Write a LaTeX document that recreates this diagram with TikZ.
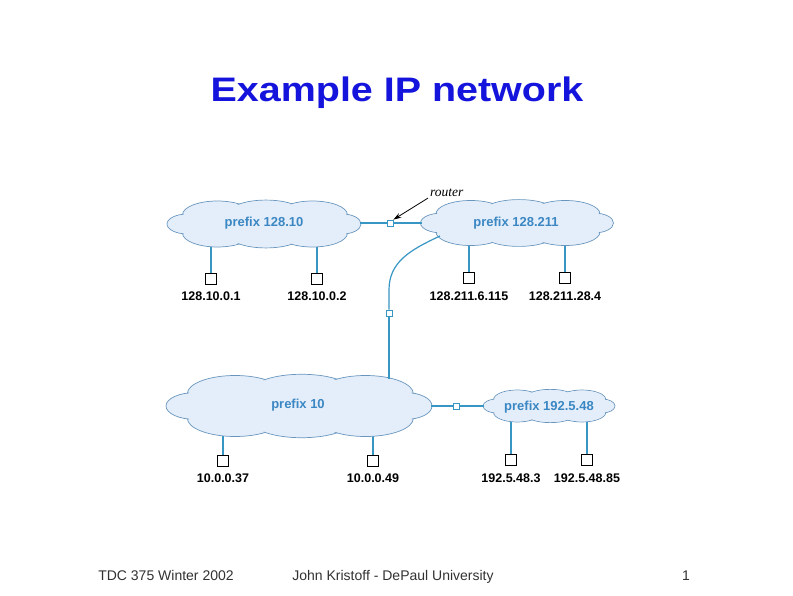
\documentclass[tikz,border=0pt]{standalone}
\usepackage{fontspec}
\setmainfont{Liberation Sans}
\newfontfamily\serifit{Liberation Serif}
\usetikzlibrary{arrows.meta}
\pgfdeclarelayer{bg}
\pgfsetlayers{bg,main}
\definecolor{cloudfill}{RGB}{228,238,250}
\definecolor{cloudline}{RGB}{105,150,190}
\definecolor{netline}{RGB}{55,150,195}
\definecolor{labelblue}{RGB}{58,135,195}
\definecolor{titleblue}{RGB}{20,20,220}
\definecolor{footgray}{RGB}{50,50,50}
\tikzset{
  cloud/.pic={
    \foreach \cx/\cy/\rx/\ry in {0/0/0.85/0.3,-0.48/-0.2/0.36/0.3,0.02/-0.24/0.38/0.28,0.5/-0.2/0.36/0.3,-0.48/0.2/0.36/0.3,0.02/0.24/0.38/0.28,0.5/0.2/0.36/0.3,-0.78/0/0.22/0.22,0.8/0/0.2/0.22}
      {\draw[draw=cloudline,line width=0.7pt,fill=cloudfill] (\cx,\cy) ellipse [x radius=\rx, y radius=\ry];}
    \foreach \cx/\cy/\rx/\ry in {0/0/0.85/0.3,-0.48/-0.2/0.36/0.3,0.02/-0.24/0.38/0.28,0.5/-0.2/0.36/0.3,-0.48/0.2/0.36/0.3,0.02/0.24/0.38/0.28,0.5/0.2/0.36/0.3,-0.78/0/0.22/0.22,0.8/0/0.2/0.22}
      {\fill[cloudfill] (\cx,\cy) ellipse [x radius=\rx-0.012, y radius=\ry-0.02];}
  },
  cloudlabel/.style={font=\fontsize{13}{15}\selectfont\bfseries, text=labelblue, inner sep=0pt},
  router/.style={draw=netline, fill=white, line width=0.7pt, minimum size=6pt, inner sep=0pt, rectangle},
  host/.style={draw=black, fill=white, line width=0.8pt, minimum size=11pt, inner sep=0pt, rectangle},
  hostlabel/.style={font=\fontsize{12.5}{14}\selectfont\bfseries, inner sep=0pt},
  net/.style={draw=netline, line width=1.2pt},
  foot/.style={font=\fontsize{14}{16}\selectfont, text=footgray, inner sep=0pt, anchor=base}
}
\begin{document}
\begin{tikzpicture}[x=1pt,y=-1pt]
\useasboundingbox (0,0) rectangle (793,596);
\begin{pgfonlayer}{bg}
\fill[white] (0,0) rectangle (793,596);
\end{pgfonlayer}

% title
\node[font=\fontsize{34}{40}\selectfont\bfseries, text=titleblue, xscale=1.16, inner sep=0pt] (title) at (397,93) {Example IP network};

% clouds
\pic[xscale=97, yscale=46] at (264,224) {cloud};
\pic[xscale=96.5, yscale=45] at (517,223) {cloud};
\pic[xscale=133, yscale=61] at (299,406) {cloud};
\pic[xscale=66, yscale=32] at (549,406) {cloud};

\node[cloudlabel] (c1) at (264,223) {prefix 128.10};
\node[cloudlabel] (c2) at (516,223) {prefix 128.211};
\node[cloudlabel] (c3) at (298,405) {prefix 10};
\node[cloudlabel] (c4) at (549,407) {prefix 192.5.48};

% cloud edge points
\coordinate (c1e) at (360,223);
\coordinate (c2w) at (422,223);
\coordinate (c2sw) at (440,236);
\coordinate (c2bend) at (389,290);
\coordinate (c3n) at (389,379);
\coordinate (c3e) at (431,406);
\coordinate (c4w) at (484,406);

% routers
\node[router] (r1) at (390,223) {};
\node[router] (r2) at (389,313) {};
\node[router] (r3) at (456,406) {};

% hosts
\node[host] (h1) at (211,278.5) {};
\node[host] (h2) at (317,278.5) {};
\node[host] (h3) at (469,278) {};
\node[host] (h4) at (565,278) {};
\node[host] (h5) at (223,460.5) {};
\node[host] (h6) at (373,460.5) {};
\node[host] (h7) at (511,460) {};
\node[host] (h8) at (587,460) {};

\node[hostlabel] (l1) at (211,296) {128.10.0.1};
\node[hostlabel] (l2) at (317,296) {128.10.0.2};
\node[hostlabel] (l3) at (469,296) {128.211.6.115};
\node[hostlabel] (l4) at (565,296) {128.211.28.4};
\node[hostlabel] (l5) at (223,478) {10.0.0.37};
\node[hostlabel] (l6) at (373,478) {10.0.0.49};
\node[hostlabel] (l7) at (511,478) {192.5.48.3};
\node[hostlabel] (l8) at (587,478) {192.5.48.85};

% links (behind clouds)
\begin{pgfonlayer}{bg}
\draw[net] (h1.north) -- (h1.north |- c1.center);
\draw[net] (h2.north) -- (h2.north |- c1.center);
\draw[net] (h3.north) -- (h3.north |- c2.center);
\draw[net] (h4.north) -- (h4.north |- c2.center);
\draw[net] (h5.north) -- (h5.north |- c3.center);
\draw[net] (h6.north) -- (h6.north |- c3.center);
\draw[net] (h7.north) -- (h7.north |- c4.center);
\draw[net] (h8.north) -- (h8.north |- c4.center);
\end{pgfonlayer}

\draw[net] (c1e) -- (r1.west);
\draw[net] (r1.east) -- (c2w);
\draw[net] (c2sw) .. controls (410,250) and (389,262) .. (c2bend) -- (r2.north);
\draw[net] (r2.south) -- (c3n);
\draw[net] (c3e) -- (r3.west);
\draw[net] (r3.east) -- (c4w);

% router label
\node[font=\serifit\itshape\fontsize{13.5}{15}\selectfont, inner sep=0pt, anchor=west] (rl) at (430,193) {router};
\draw[line width=0.8pt, -{Stealth[length=8pt,width=5pt]}] (rl.south west) ++(-2,1) -- (r1.north east);

% footer
\node[foot] (f1) at (166,580) {TDC 375 Winter 2002};
\node[foot] (f2) at (393,580) {John Kristoff - DePaul University};
\node[foot] (f3) at (686,580) {1};
\end{tikzpicture}
\end{document}
